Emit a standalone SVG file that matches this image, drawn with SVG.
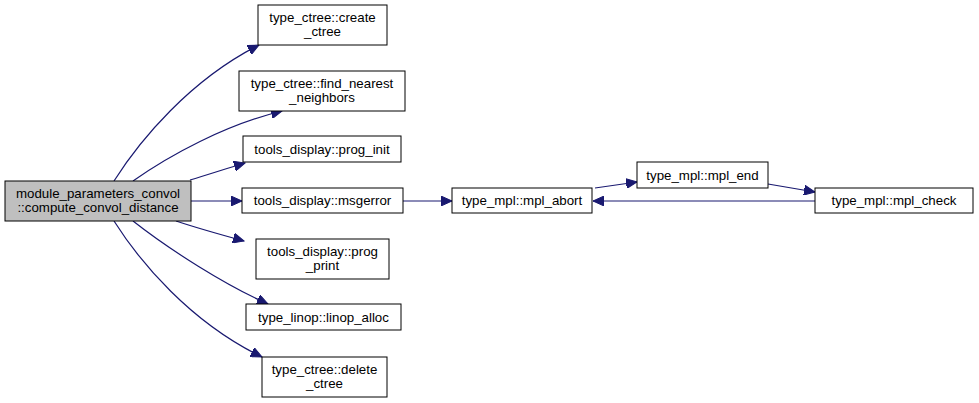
<svg xmlns="http://www.w3.org/2000/svg" width="979" height="403" viewBox="0 0 979 403">
<style>
.n rect{fill:#fff;stroke:#000;stroke-width:1}
.n text{font-family:"Liberation Sans",Arial,sans-serif;font-size:13.3px;fill:#000;text-anchor:middle}
#main rect{fill:#bfbfbf;stroke:#000}
.e{fill:none;stroke:#191970;stroke-width:1.2}
</style>
<defs>
<marker id="a" markerUnits="userSpaceOnUse" markerWidth="12" markerHeight="10" refX="11" refY="5" orient="auto">
<path d="M0,0 L11,5 L0,10 Z" fill="#191970" stroke="#191970"/>
</marker>
</defs>
<rect width="979" height="403" fill="#fff"/>
<g id="edges">
<path class="e" marker-end="url(#a)" d="M114,181 C140,140 190,80 259,45"/>
<path class="e" marker-end="url(#a)" d="M133,181 C170,155 225,125 282,111"/>
<path class="e" marker-end="url(#a)" d="M190,180 C210,174 228,168 245,163"/>
<path class="e" marker-end="url(#a)" d="M191,201 L242,201"/>
<path class="e" marker-end="url(#a)" d="M176,221 C200,229 222,235 244,241"/>
<path class="e" marker-end="url(#a)" d="M133,221 C170,250 225,285 268,304"/>
<path class="e" marker-end="url(#a)" d="M114,221 C140,262 190,322 262,357"/>
<path class="e" marker-end="url(#a)" d="M403,201 L452,201"/>
<path class="e" marker-end="url(#a)" d="M595,188 L637,182"/>
<path class="e" marker-end="url(#a)" d="M768,184 L815,192"/>
<path class="e" marker-end="url(#a)" d="M815,201 L593,201"/>
</g>
<g id="main" class="n"><rect x="5" y="181" width="186" height="40"/><text x="98" y="198">module_parameters_convol</text><text x="98" y="212">::compute_convol_distance</text></g>
<g id="create_ctree" class="n"><rect x="258" y="5" width="129" height="40"/><text x="322.5" y="22">type_ctree::create</text><text x="322.5" y="36">_ctree</text></g>
<g id="find_nearest" class="n"><rect x="239" y="71" width="166" height="40"/><text x="322" y="88">type_ctree::find_nearest</text><text x="322" y="102">_neighbors</text></g>
<g id="prog_init" class="n"><rect x="243" y="136" width="158" height="26"/><text x="322" y="154">tools_display::prog_init</text></g>
<g id="msgerror" class="n"><rect x="242" y="188" width="161" height="25"/><text x="322.5" y="205">tools_display::msgerror</text></g>
<g id="prog_print" class="n"><rect x="256" y="239" width="133" height="40"/><text x="322.5" y="256">tools_display::prog</text><text x="322.5" y="270">_print</text></g>
<g id="linop_alloc" class="n"><rect x="246" y="304" width="155" height="26"/><text x="323.5" y="322">type_linop::linop_alloc</text></g>
<g id="delete_ctree" class="n"><rect x="262" y="357" width="125" height="40"/><text x="324.5" y="374">type_ctree::delete</text><text x="324.5" y="388">_ctree</text></g>
<g id="mpl_abort" class="n"><rect x="452" y="188" width="140" height="25"/><text x="522" y="205">type_mpl::mpl_abort</text></g>
<g id="mpl_end" class="n"><rect x="637" y="162" width="131" height="26"/><text x="702.5" y="180">type_mpl::mpl_end</text></g>
<g id="mpl_check" class="n"><rect x="815" y="188" width="158" height="25"/><text x="894" y="205">type_mpl::mpl_check</text></g>
</svg>
